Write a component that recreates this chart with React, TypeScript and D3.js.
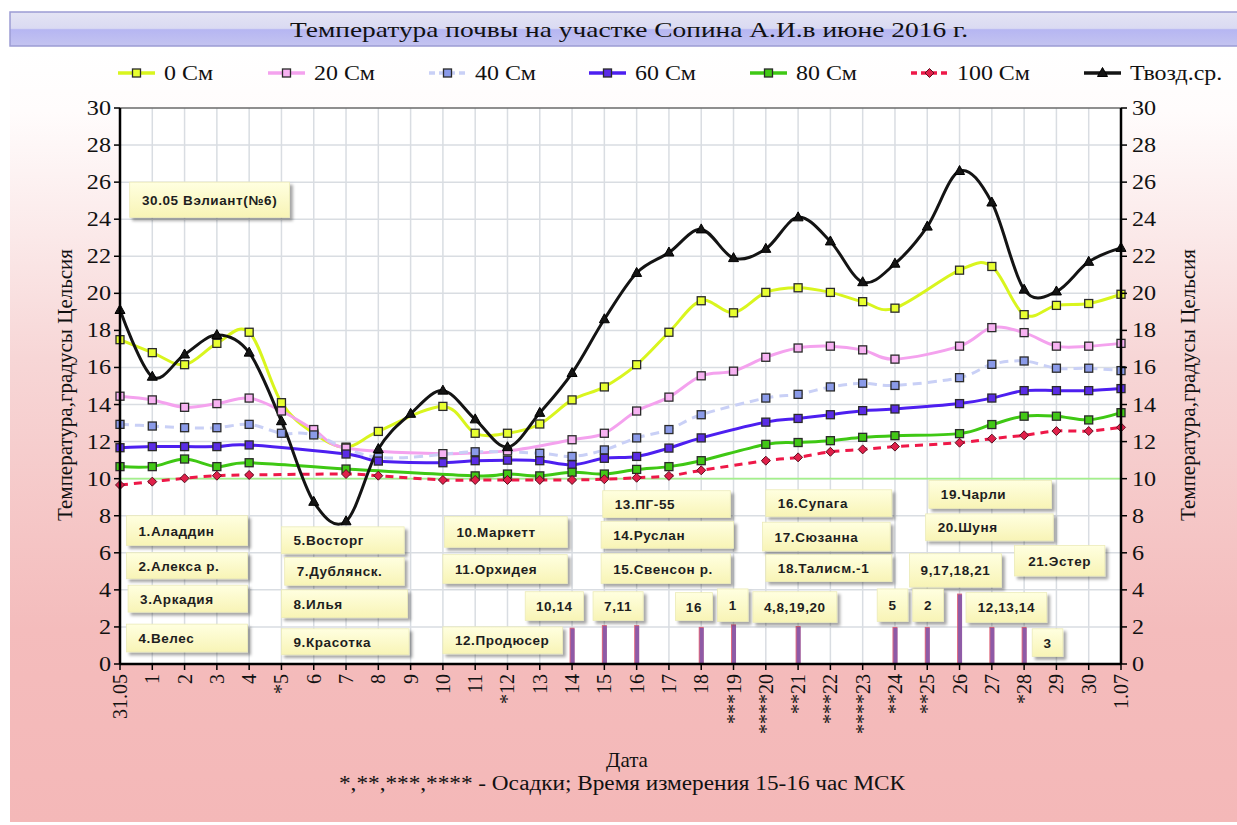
import React from 'react';
import * as d3 from 'd3';

// ---------- DATA ----------
const days = ["31.05","1","2","3","4","*5","6","7","8","9","10","11","*12","13","14","15","16","17","18","***19","****20","**21","***22","****23","**24","**25","26","27","*28","29","30","1.07"];

const soil0 = [17.5,16.8,16.15,17.3,17.9,14.1,12.45,11.7,12.55,null,13.9,12.45,12.45,12.95,14.25,14.95,16.15,17.9,19.6,18.95,20.05,20.3,20.05,19.55,19.2,null,21.25,21.45,18.85,19.35,19.45,19.95];
const soil20 = [14.45,14.25,13.85,14.05,14.35,13.65,12.65,11.65,null,null,11.35,null,11.5,null,12.1,12.45,13.65,14.4,15.55,15.8,16.55,17.05,17.15,16.95,16.45,null,17.15,18.15,17.88,17.15,17.15,17.3];
const soil40 = [12.93,12.84,12.75,12.75,12.93,12.45,12.36,null,11.15,null,null,11.45,null,11.37,11.2,11.55,12.2,12.65,13.45,null,14.35,14.55,14.95,15.15,15.03,null,15.45,16.17,16.35,15.96,15.96,15.83];
const soil60 = [11.67,11.73,11.73,11.73,11.82,null,null,11.33,10.95,null,10.86,10.97,11.0,10.97,10.75,11.1,11.2,11.65,12.2,null,13.05,13.25,13.45,13.67,13.76,null,14.05,14.35,14.75,14.75,14.75,14.86];
const soil80 = [10.65,10.65,11.06,10.65,10.86,null,null,10.52,null,null,null,10.15,10.25,10.15,10.35,10.25,10.5,10.65,10.97,null,11.85,11.95,12.05,12.23,12.32,null,12.43,12.92,13.37,13.37,13.17,13.56];
const soil100 = [9.66,9.84,10.02,10.16,10.2,null,null,10.25,10.16,null,9.93,9.93,9.93,9.93,9.93,9.97,10.05,10.15,10.45,null,10.97,11.15,11.45,11.58,11.73,null,11.94,12.16,12.34,12.57,12.57,12.77];
const airAvg = [19.1,15.5,16.7,17.75,16.8,13.1,8.75,7.7,11.6,13.5,14.75,13.2,11.7,13.55,15.7,18.6,21.1,22.2,23.45,21.9,22.4,24.1,22.8,20.6,21.6,23.6,26.6,24.9,20.2,20.1,21.7,22.45];
const precipitation = [null,null,null,null,null,null,null,null,null,null,null,null,null,null,1.96,2.1,2.1,null,2.0,2.14,null,2.05,null,null,2.0,2.0,3.8,2.0,2.0,null,null,null];

const seriesNames = ["0 См","20 См","40 См","60 См","80 См","100 См","Твозд.ср."];
const seriesValues = [soil0, soil20, soil40, soil60, soil80, soil100, airAvg];

const yTicks = [0,2,4,6,8,10,12,14,16,18,20,22,24,26,28,30];

const noteTexts = ["30.05 Вэлиант(№6)","1.Аладдин","2.Алекса р.","3.Аркадия","4.Велес","5.Восторг","7.Дублянск.","8.Илья","9.Красотка","10.Маркетт","11.Орхидея","12.Продюсер","13.ПГ-55","14.Руслан","15.Свенсон р.","16.Супага","17.Сюзанна","18.Талисм.-1","19.Чарли","20.Шуня","21.Эстер","9,17,18,21","10,14","7,11","16","1","4,8,19,20","5","2","12,13,14","3"];

const titleText = "Температура почвы на участке Сопина А.И.в июне 2016 г.";
const yAxisTitle = "Температура,градусы Цельсия";
const xAxisTitle = "Дата";
const footnote = "*,**,***,**** - Осадки; Время измерения 15-16 час МСК";

// ---------- LAYOUT / STYLE ----------
// note boxes in data units: [x index start, x index end, y top, y bottom, centered]
const noteLayout: [number, number, number, number, boolean][] = [
  [0.3,5.25,26.0,24.1,true],
  [0.2,3.95,8.0,6.4,false],[0.2,3.95,6.0,4.6,false],[0.25,3.95,4.25,2.8,false],[0.2,3.95,2.15,0.65,false],
  [5.0,8.8,7.4,5.95,false],[5.1,8.8,5.75,4.25,false],[5.0,8.9,4.0,2.5,false],[5.0,8.95,1.9,0.5,false],
  [10.05,13.85,7.95,6.3,false],[10.0,13.85,5.9,4.35,false],[10.0,13.7,2.0,0.55,false],
  [14.95,18.9,9.35,7.9,false],[14.9,19.0,7.7,6.25,false],[14.9,18.9,5.95,4.35,false],
  [20.0,23.9,9.4,7.95,false],[19.9,23.85,7.65,6.1,false],[20.0,23.9,5.9,4.45,false],
  [25.05,28.85,9.9,8.4,false],[24.95,28.9,8.1,6.65,false],[27.7,30.5,6.4,4.75,true],
  [24.45,27.3,5.95,4.15,true],
  [12.55,14.35,3.9,2.35,true],[14.65,16.2,3.9,2.35,true],[17.2,18.35,3.85,2.35,true],[18.5,19.45,4.05,2.3,true],
  [19.6,22.2,3.9,2.25,true],[23.45,24.4,4.05,2.3,true],[24.55,25.5,4.05,2.3,true],[26.2,28.7,3.85,2.25,true],
  [28.25,29.2,1.9,0.4,true],
];

type Style = { color: string; width: number; dash?: string; marker: 'square'|'diamond'|'triangle'; fill: string };
const styles: Style[] = [
  { color: '#d9f51e', width: 3, marker: 'square', fill: '#e8ff30' },
  { color: '#f4a2ee', width: 3, marker: 'square', fill: '#f7b2f2' },
  { color: '#c9d0f6', width: 3, dash: '9,6', marker: 'square', fill: '#8a9ae8' },
  { color: '#4d1ff0', width: 3, marker: 'square', fill: '#5a2ce6' },
  { color: '#3fc814', width: 3, marker: 'square', fill: '#42c816' },
  { color: '#ee1848', width: 3, dash: '8,6', marker: 'diamond', fill: '#e0204a' },
  { color: '#141414', width: 3, marker: 'triangle', fill: '#141414' },
];
const legendX = [118, 268, 429, 589, 750, 911, 1084];

const W = 1237, H = 825;
const PL = 120, PR = 1121, PT = 108, PB = 664;
const serif = '"Liberation Serif", "Times New Roman", serif';
const sans = '"Liberation Sans", Arial, sans-serif';

function Marker({ type, x, y, fill }: { type: string; x: number; y: number; fill: string }) {
  if (type === 'square') return <rect x={x - 4} y={y - 4} width={8} height={8} fill={fill} stroke="#2a2a2a" strokeWidth={1.3} />;
  if (type === 'diamond') return <path d={`M${x},${y - 4.5}L${x + 4.5},${y}L${x},${y + 4.5}L${x - 4.5},${y}Z`} fill={fill} stroke="#5a1020" strokeWidth={1} />;
  return <path d={`M${x},${y - 5.5}L${x + 5},${y + 3.5}L${x - 5},${y + 3.5}Z`} fill={fill} stroke="#000" strokeWidth={1} />;
}

export default function App() {
  const x = d3.scaleLinear().domain([0, days.length - 1]).range([PL, PR]);
  const y = d3.scaleLinear().domain([0, 30]).range([PB, PT]);
  const line = d3.line<[number, number]>().x(d => x(d[0])).y(d => y(d[1])).curve(d3.curveCardinal.tension(0));

  return (
    <svg width={W} height={H} style={{ position: 'absolute', left: 0, top: 0 }} xmlns="http://www.w3.org/2000/svg">
      <defs>
        <linearGradient id="bg" x1="0" y1="0" x2="0" y2="1">
          <stop offset="0%" stopColor="#ffffff" />
          <stop offset="8%" stopColor="#fffcfc" />
          <stop offset="40%" stopColor="#f7d6d6" />
          <stop offset="75%" stopColor="#f4bcbc" />
          <stop offset="100%" stopColor="#f4b8b8" />
        </linearGradient>
        <linearGradient id="titleg" x1="0" y1="0" x2="0" y2="1">
          <stop offset="0%" stopColor="#e4e4f4" />
          <stop offset="48%" stopColor="#dadaf2" />
          <stop offset="52%" stopColor="#b6b6f2" />
          <stop offset="100%" stopColor="#c4c4f0" />
        </linearGradient>
        <linearGradient id="boxg" x1="0" y1="0" x2="0" y2="1">
          <stop offset="0%" stopColor="#ffffe0" />
          <stop offset="100%" stopColor="#f8f4b6" />
        </linearGradient>
        <filter id="shadow" x="-10%" y="-20%" width="130%" height="160%">
          <feDropShadow dx="3" dy="3" stdDeviation="1.6" floodColor="#000" floodOpacity="0.35" />
        </filter>
      </defs>

      <rect x={0} y={0} width={W} height={H} fill="#fff" />
      <rect x={10} y={50} width={W - 10} height={772} fill="url(#bg)" />

      {/* title */}
      <rect x={10} y={12} width={W} height={34} fill="url(#titleg)" stroke="#9c9cd4" strokeWidth={1.5} />
      <text x={629} y={37} textAnchor="middle" fontFamily={serif} fontSize={22} fill="#111" textLength={678} lengthAdjust="spacingAndGlyphs">{titleText}</text>

      {/* legend */}
      {seriesNames.map((n, i) => (
        <g key={n}>
          <line x1={legendX[i]} x2={legendX[i] + 37} y1={73} y2={73} stroke={styles[i].color} strokeWidth={3.5} strokeDasharray={styles[i].dash ? '6,4' : undefined} />
          <Marker type={styles[i].marker} x={legendX[i] + 18.5} y={73} fill={styles[i].fill} />
          <text transform={`translate(${legendX[i] + 46},80) scale(1.14,1)`} fontFamily={serif} fontSize={21} fill="#111">{n}</text>
        </g>
      ))}

      {/* plot area */}
      <rect x={PL} y={PT} width={PR - PL} height={PB - PT} fill="#fff" />
      {days.map((d, i) => (
        <line key={'gx' + i} x1={x(i)} x2={x(i)} y1={PT} y2={PB} stroke="#d9dde2" strokeWidth={1.5} />
      ))}
      {yTicks.filter(t => t > 0 && t < 30).map(t => (
        <line key={'gy' + t} x1={PL} x2={PR} y1={y(t)} y2={y(t)} stroke="#d9dde2" strokeWidth={1.5} />
      ))}
      <line x1={PL} x2={PR} y1={PT} y2={PT} stroke="#6a6a6a" strokeWidth={1.5} />
      <line x1={PL} x2={PR} y1={y(10)} y2={y(10)} stroke="#a4f08c" strokeWidth={1.6} />

      {/* precipitation bars */}
      {precipitation.map((v, i) => v == null ? null : (
        <g key={'b' + i}>
          <rect x={x(i) - 2.5} y={y(v)} width={5} height={y(0) - y(v)} fill="#d8506a" opacity={0.85} />
          <rect x={x(i) - 1.5} y={y(v) + 1} width={4} height={y(0) - y(v) - 1} fill="#7a58b0" opacity={0.8} />
        </g>
      ))}

      {/* series lines */}
      {seriesValues.map((vals, si) => {
        const pts = vals.map((v, i) => [i, v] as [number, number | null]).filter(p => p[1] != null) as [number, number][];
        return (
          <path key={'l' + si} d={line(pts) || ''} fill="none" stroke={styles[si].color} strokeWidth={styles[si].width}
            strokeDasharray={styles[si].dash} strokeLinejoin="round" />
        );
      })}
      {seriesValues.map((vals, si) => (
        <g key={'m' + si}>
          {vals.map((v, i) => v == null ? null : (
            <Marker key={i} type={styles[si].marker} x={x(i)} y={y(v)} fill={styles[si].fill} />
          ))}
        </g>
      ))}

      {/* axes */}
      <line x1={PL} x2={PL} y1={PT} y2={PB} stroke="#000" strokeWidth={2.5} />
      <line x1={PR} x2={PR} y1={PT} y2={PB} stroke="#000" strokeWidth={2.5} />
      <line x1={PL} x2={PR} y1={PB} y2={PB} stroke="#000" strokeWidth={2.5} />
      {yTicks.map(t => (
        <g key={'yt' + t}>
          <line x1={PL - 6} x2={PL} y1={y(t)} y2={y(t)} stroke="#000" strokeWidth={1.5} />
          <line x1={PR} x2={PR + 6} y1={y(t)} y2={y(t)} stroke="#000" strokeWidth={1.5} />
          <text transform={`translate(${PL - 9},${y(t) + 7}) scale(1.15,1)`} textAnchor="end" fontFamily={serif} fontSize={21} fill="#111">{t}</text>
          <text transform={`translate(${PR + 11},${y(t) + 7}) scale(1.15,1)`} textAnchor="start" fontFamily={serif} fontSize={21} fill="#111">{t}</text>
        </g>
      ))}
      {days.map((d, i) => (
        <g key={'xt' + i}>
          <line x1={x(i)} x2={x(i)} y1={PB} y2={PB + 6} stroke="#000" strokeWidth={1.5} />
          <text transform={`translate(${x(i) + 7},${PB + 10}) rotate(-90)`} textAnchor="end" fontFamily={serif} fontSize={20} fill="#111">{d}</text>
        </g>
      ))}

      {/* axis titles */}
      <text transform={`translate(72,385) rotate(-90)`} textAnchor="middle" fontFamily={serif} fontSize={20} fill="#111" textLength={272} lengthAdjust="spacingAndGlyphs">{yAxisTitle}</text>
      <text transform={`translate(1195,385) rotate(-90)`} textAnchor="middle" fontFamily={serif} fontSize={20} fill="#111" textLength={272} lengthAdjust="spacingAndGlyphs">{yAxisTitle}</text>
      <text x={627} y={767} textAnchor="middle" fontFamily={serif} fontSize={21} fill="#111">{xAxisTitle}</text>
      <text x={622} y={790} textAnchor="middle" fontFamily={serif} fontSize={20} fill="#111" textLength={566} lengthAdjust="spacingAndGlyphs">{footnote}</text>

      {/* note boxes */}
      {noteTexts.map((t, i) => {
        const [a, b, top, bot, centered] = noteLayout[i];
        const x0 = x(a), x1 = x(b), y0 = y(top), y1 = y(bot);
        return (
          <g key={'n' + i}>
            <rect x={x0} y={y0} width={x1 - x0} height={y1 - y0} fill="url(#boxg)" stroke="#ecebb8" strokeWidth={0.8} filter="url(#shadow)" />
            <text x={centered ? (x0 + x1) / 2 : x0 + 12} y={(y0 + y1) / 2 + 5} textAnchor={centered ? 'middle' : 'start'}
              fontFamily={sans} fontWeight="bold" fontSize={13.5} letterSpacing={0.6} fill="#1e1e1e">{t}</text>
          </g>
        );
      })}
    </svg>
  );
}
